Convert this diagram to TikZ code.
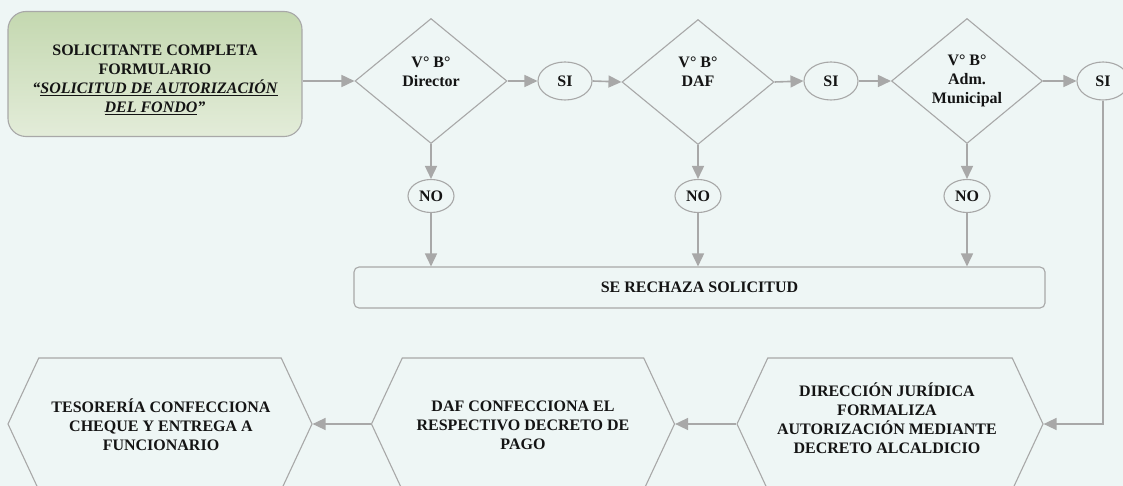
\documentclass[tikz,border=0pt]{standalone}
\usepackage{fontspec}
\setmainfont{Liberation Serif}
\usetikzlibrary{shapes.geometric,shapes.symbols,arrows.meta}
\definecolor{bg}{HTML}{EEF6F5}
\definecolor{ln}{HTML}{A8A8A8}
\definecolor{gA}{HTML}{C4D8B0}
\definecolor{gB}{HTML}{E3ECD9}
\begin{document}
\begin{tikzpicture}[x=1pt,y=-1pt,
 txt/.style={font=\fontsize{16}{19}\selectfont\bfseries, align=center, text=black!92, inner sep=0},
 shp/.style={draw=ln, line width=1.1pt},
 dec/.style={shp, diamond, minimum width=152pt, minimum height=125pt, inner sep=0},
 oval/.style={shp, ellipse, minimum width=54pt, minimum height=38pt, inner sep=0, txt},
 hexa/.style={shp, signal, signal to=west and east, signal pointer angle=130, minimum height=132pt, inner sep=0},
 arr/.style={draw=ln, color=ln, line width=1.6pt, -{Triangle[length=13pt,width=12pt]}}
]
\useasboundingbox (0,0) rectangle (1123,486);
\fill[bg] (0,0) rectangle (1123,486);

\node[shp, rounded corners=18pt, minimum width=294pt, minimum height=125pt, top color=gA, bottom color=gB] (start) at (155,74) {};
\node[txt] (startt) at (155,80) {SOLICITANTE COMPLETA\\FORMULARIO\\\textit{“\underline{SOLICITUD DE AUTORIZACIÓN}}\\\textit{\underline{DEL FONDO}”}};

\node[dec] (d1) at (431,81) {};
\node[txt] (d1t) at (431,72) {V° B°\\Director};
\node[oval] (si1) at (565,81) {SI};
\node[dec] (d2) at (698,82) {};
\node[txt] (d2t) at (698,72) {V° B°\\DAF};
\node[oval] (si2) at (831,81) {SI};
\node[dec, minimum width=151pt] (d3) at (967,81) {};
\node[txt] (d3t) at (967,81) {V° B°\\Adm.\\Municipal};
\node[oval, minimum width=52pt] (si3) at (1103,81) {SI};

\node[oval, minimum width=46pt, minimum height=33pt] (no1) at (431,196) {NO};
\node[oval, minimum width=46pt, minimum height=33pt] (no2) at (698,196) {NO};
\node[oval, minimum width=46pt, minimum height=33pt] (no3) at (967,196) {NO};

\node[shp, rounded corners=5pt, minimum width=691pt, minimum height=41pt, txt] (rej) at (699.5,287.5) {SE RECHAZA SOLICITUD};

\node[hexa, minimum width=304pt] (h1) at (160,424) {};
\node[txt] (h1t) at (161,425) {TESORERÍA CONFECCIONA\\CHEQUE Y ENTREGA A\\FUNCIONARIO};
\node[hexa, minimum width=303pt] (h2) at (523,424) {};
\node[txt] (h2t) at (523,425) {DAF CONFECCIONA EL\\RESPECTIVO DECRETO DE\\PAGO};
\node[hexa, minimum width=306pt] (h3) at (890,424) {};
\node[txt] (h3t) at (887,418) {DIRECCIÓN JURÍDICA\\FORMALIZA\\AUTORIZACIÓN MEDIANTE\\DECRETO ALCALDICIO};

\draw[arr] (start.east |- d1.west) -- (d1.west);
\draw[arr] (d1.east) -- (si1.west);
\draw[arr] (si1.east) -- (d2.west);
\draw[arr] (d2.east) -- (si2.west);
\draw[arr] (si2.east) -- (d3.west);
\draw[arr] (d3.east) -- (si3.west);

\draw[arr] (d1.south) -- (no1.north);
\draw[arr] (d2.south) -- (no2.north);
\draw[arr] (d3.south) -- (no3.north);
\draw[arr] (no1.south) -- (no1.south |- rej.north);
\draw[arr] (no2.south) -- (no2.south |- rej.north);
\draw[arr] (no3.south) -- (no3.south |- rej.north);

\draw[arr] (si3.south) |- (h3.east);
\draw[arr] (h3.west) -- (h2.east);
\draw[arr] (h2.west) -- (h1.east);
\end{tikzpicture}
\end{document}
